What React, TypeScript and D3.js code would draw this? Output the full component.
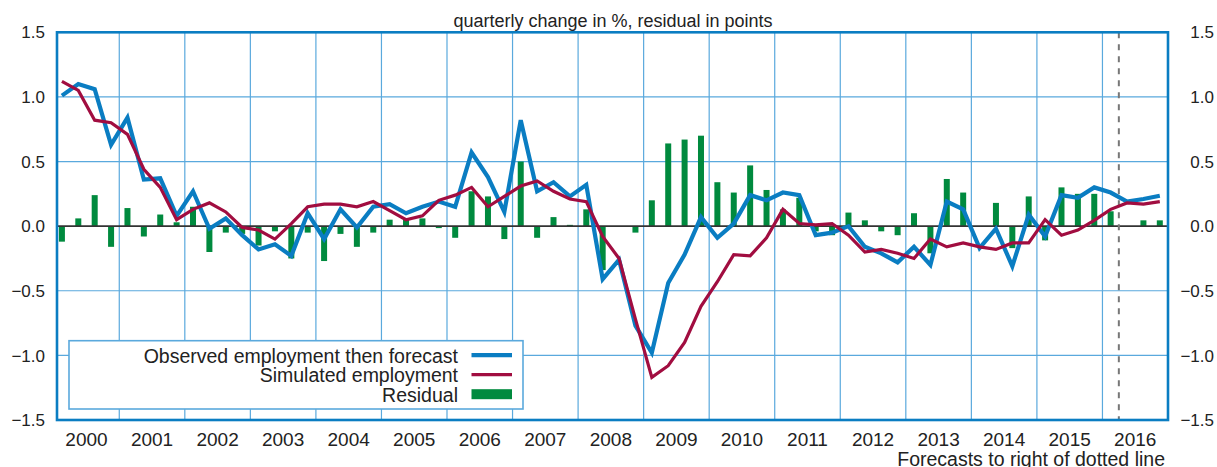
import * as d3 from "d3";

// quarterly values, 2000Q1 .. 2016Q4
const observed = [
  1.01, 1.1, 1.06, 0.63, 0.84, 0.36, 0.37, 0.08, 0.27, -0.02, 0.06, -0.07,
  -0.18, -0.14, -0.23, 0.1, -0.1, 0.13, -0.01, 0.15, 0.17, 0.1, 0.15, 0.19,
  0.15, 0.57, 0.38, 0.11, 0.82, 0.27, 0.34, 0.23, 0.32, -0.41, -0.26, -0.77,
  -0.98, -0.44, -0.22, 0.07, -0.09, 0.02, 0.24, 0.2, 0.26, 0.24, -0.07, -0.05,
  0.0, -0.16, -0.21, -0.28, -0.16, -0.3, 0.19, 0.13, -0.17, -0.02, -0.31, 0.09,
  -0.08, 0.24, 0.22, 0.3, 0.26, 0.19, 0.21, 0.235,
];

const simulated = [
  1.12, 1.05, 0.82, 0.8, 0.71, 0.44, 0.3, 0.05, 0.13, 0.18, 0.11, -0.01,
  -0.03, -0.1, 0.02, 0.15, 0.17, 0.17, 0.15, 0.19, 0.12, 0.05, 0.08, 0.2,
  0.24, 0.3, 0.15, 0.23, 0.31, 0.35, 0.27, 0.21, 0.19, -0.08, -0.25, -0.72,
  -1.17, -1.08, -0.9, -0.62, -0.43, -0.22, -0.23, -0.09, 0.13, 0.02, 0.01, 0.02,
  -0.07, -0.2, -0.18, -0.21, -0.25, -0.1, -0.16, -0.13, -0.16, -0.18, -0.13, -0.13,
  0.05, -0.07, -0.03, 0.045, 0.13, 0.18, 0.17, 0.19,
];

const residual = [
  -0.12, 0.06, 0.24, -0.16, 0.14, -0.08, 0.09, 0.03, 0.15, -0.2, -0.05, -0.06,
  -0.15, -0.04, -0.25, -0.05, -0.27, -0.06, -0.16, -0.05, 0.05, 0.05, 0.06, -0.015,
  -0.09, 0.27, 0.23, -0.1, 0.5, -0.09, 0.07, 0.01, 0.13, -0.34, -0.005, -0.05,
  0.2, 0.64, 0.67, 0.7, 0.34, 0.26, 0.47, 0.28, 0.13, 0.22, -0.04, -0.07,
  0.105, 0.045, -0.04, -0.07, 0.1, -0.21, 0.365, 0.26, -0.005, 0.18, -0.17, 0.23,
  -0.11, 0.3, 0.25, 0.25, 0.115, 0, 0.045, 0.045,
];

const years = d3.range(2000, 2017);
const yTicks = [-1.5, -1, -0.5, 0, 0.5, 1, 1.5];
const gridValues = [-1, -0.5, 0.5, 1];
const forecastStart = 2016.25;

const legendItems = [
  { label: "Observed employment then forecast", kind: "blue" },
  { label: "Simulated employment", kind: "red" },
  { label: "Residual", kind: "bar" },
];

const width = 1217;
const height = 467;
const left = 57;
const right = 1168;
const top = 32.3;
const bottom = 420;

const BLUE = "#0a7dc2";
const RED = "#a10d40";
const GREEN = "#008a3e";
const GRID = "#5aa9dd";
const FONT = "'Liberation Sans', Arial, Helvetica, sans-serif";

const App = () => {
  const x = d3.scaleLinear().domain([2000.05, 2017]).range([left, right]);
  const y = d3.scaleLinear().domain([-1.5, 1.5]).range([bottom, top]);
  const fmt = d3.format(".1f");

  const qx = (i: number) => x(2000 + (i + 0.5) / 4);

  const line = d3
    .line<number>()
    .x((_d, i) => qx(i))
    .y((d) => y(d));

  const barW = 6;

  return (
    <svg
      width={width}
      height={height}
      style={{ position: "absolute", left: 0, top: 0, background: "#fff" }}
      fontFamily={FONT}
    >
      {/* grid */}
      {years.slice(1).map((yr) => (
        <line
          key={"v" + yr}
          x1={x(yr)}
          x2={x(yr)}
          y1={top}
          y2={bottom}
          stroke={GRID}
          strokeWidth={1.2}
        />
      ))}
      {gridValues.map((v) => (
        <line
          key={"h" + v}
          x1={left}
          x2={right}
          y1={y(v)}
          y2={y(v)}
          stroke={GRID}
          strokeWidth={1.2}
        />
      ))}

      {/* residual bars */}
      {residual.map((v, i) => (
        <rect
          key={"b" + i}
          x={qx(i) - barW / 2}
          y={Math.min(y(v), y(0))}
          width={barW}
          height={Math.abs(y(v) - y(0))}
          fill={GREEN}
        />
      ))}

      {/* zero line */}
      <line x1={left} x2={right} y1={y(0)} y2={y(0)} stroke="#333" strokeWidth={1.8} />

      {/* forecast divider */}
      <line
        x1={x(forecastStart)}
        x2={x(forecastStart)}
        y1={top}
        y2={bottom}
        stroke="#777"
        strokeWidth={2}
        strokeDasharray="6,6"
      />

      <path d={line(observed) ?? ""} fill="none" stroke={BLUE} strokeWidth={4.2} strokeLinejoin="miter" />
      <path d={line(simulated) ?? ""} fill="none" stroke={RED} strokeWidth={3.2} strokeLinejoin="miter" />

      {/* frame */}
      <rect
        x={left}
        y={top}
        width={right - left}
        height={bottom - top}
        fill="none"
        stroke={BLUE}
        strokeWidth={2.6}
      />

      {/* y ticks */}
      {yTicks.map((v) => (
        <g key={"t" + v} fontSize={17} fill="#222">
          <text x={45} y={y(v)} dy="0.36em" textAnchor="end">
            {fmt(v)}
          </text>
          <text x={1214} y={y(v)} dy="0.36em" textAnchor="end">
            {fmt(v)}
          </text>
        </g>
      ))}

      {/* year labels */}
      {years.map((yr) => (
        <text key={"y" + yr} x={x(yr + 0.5)} y={446} textAnchor="middle" fontSize={19} fill="#222">
          {yr}
        </text>
      ))}

      <text x={613} y={26.5} textAnchor="middle" fontSize={18} fill="#222">
        quarterly change in %, residual in points
      </text>
      <text x={1165} y={466} textAnchor="end" fontSize={19.5} fill="#222">
        Forecasts to right of dotted line
      </text>

      {/* legend */}
      <g>
        <rect x={69} y={340.7} width={454} height={68.3} fill="#fff" stroke={GRID} strokeWidth={1.6} />
        {legendItems.map((it, i) => {
          const base = 362.5 + i * 19.5;
          const cy = base - 7.3;
          return (
            <g key={it.label}>
              <text x={458} y={base} textAnchor="end" fontSize={19.5} fill="#222">
                {it.label}
              </text>
              {it.kind === "bar" ? (
                <rect x={471.5} y={cy - 5} width={40.5} height={10} fill={GREEN} />
              ) : (
                <line
                  x1={471.5}
                  x2={512}
                  y1={cy}
                  y2={cy}
                  stroke={it.kind === "blue" ? BLUE : RED}
                  strokeWidth={it.kind === "blue" ? 4.2 : 3.2}
                />
              )}
            </g>
          );
        })}
      </g>
    </svg>
  );
};

export default App;
